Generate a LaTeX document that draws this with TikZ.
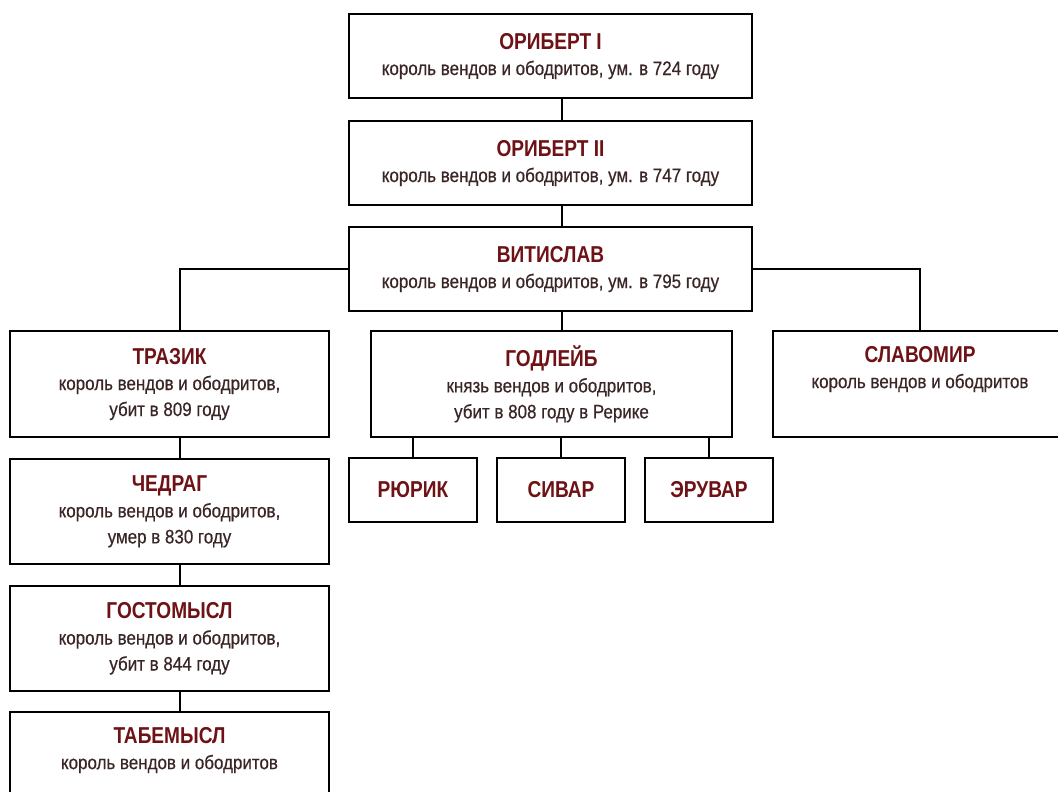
\documentclass[tikz,border=0pt]{standalone}
\usepackage{fontspec}
\setmainfont[FakeStretch=0.83]{Liberation Sans}
\newfontfamily\subfont[FakeStretch=0.87,FakeBold=0.5]{Liberation Sans}
\definecolor{titlered}{HTML}{6E1216}
\definecolor{subcol}{HTML}{3A2626}
\newcommand{\ttl}[1]{\textcolor{titlered}{\normalfont\bfseries\fontsize{23pt}{26pt}\selectfont #1}}
\tikzset{
  x=1pt,y=-1pt,
  box/.style={draw=black, line width=2.2pt, fill=white, inner sep=0pt, outer sep=0pt,
    align=center, text=subcol, font=\subfont\fontsize{19.5pt}{26pt}\selectfont},
  link/.style={draw=black, line width=2.2pt}
}
\begin{document}
\begin{tikzpicture}
\useasboundingbox (0,0) rectangle (1058,792);
\clip (0,0) rectangle (1058,792);
\fill[white] (0,0) rectangle (1058,792);
% main column
\node[box, minimum width=403pt, minimum height=84pt] (o1) at (550.5,56) {\ttl{ОРИБЕРТ I}\\король вендов и ободритов, ум. в 724 году};
\node[box, minimum width=403pt, minimum height=84pt] (o2) at (550.5,163) {\ttl{ОРИБЕРТ II}\\король вендов и ободритов, ум. в 747 году};
\node[box, minimum width=403pt, minimum height=84pt] (v) at (550.5,269) {\ttl{ВИТИСЛАВ}\\король вендов и ободритов, ум. в 795 году};
% second row
\node[box, minimum width=319pt, minimum height=106pt] (traz) at (169.5,384) {\ttl{ТРАЗИК}\\король вендов и ободритов,\\убит в 809 году};
\node[box, minimum width=361pt, minimum height=106pt] (gl) at (551.5,384) {\ttl{ГОДЛЕЙБ}\\князь вендов и ободритов,\\убит в 808 году в Рерике};
\node[box, minimum width=294pt, minimum height=106pt] (slav) at (920,384) {\ttl{СЛАВОМИР}\\король вендов и ободритов\\\strut};
% Godleib's sons
\node[box, minimum width=128pt, minimum height=64pt] (rur) at (413,490) {\ttl{РЮРИК}};
\node[box, minimum width=128pt, minimum height=64pt] (siv) at (561,490) {\ttl{СИВАР}};
\node[box, minimum width=128pt, minimum height=64pt] (eru) at (709,490) {\ttl{ЭРУВАР}};
% left chain
\node[box, minimum width=319pt, minimum height=105pt] (ched) at (169.5,511.5) {\ttl{ЧЕДРАГ}\\король вендов и ободритов,\\умер в 830 году};
\node[box, minimum width=319pt, minimum height=105pt] (gost) at (169.5,638.5) {\ttl{ГОСТОМЫСЛ}\\король вендов и ободритов,\\убит в 844 году};
\node[box, minimum width=319pt, minimum height=106pt] (tab) at (169.5,765) {\ttl{ТАБЕМЫСЛ}\\король вендов и ободритов\\\strut};
% connectors
\draw[link] ([xshift=11.5pt]o1.south) -- ([xshift=11.5pt]o2.north);
\draw[link] ([xshift=11.5pt]o2.south) -- ([xshift=11.5pt]v.north);
\draw[link] ([xshift=11.5pt]v.south) -- ([xshift=11.5pt]v.south |- gl.north);
\draw[link] (v.west) -| ([xshift=10.5pt]traz.north);
\draw[link] (v.east) -| (slav.north);
\draw[link] (rur.north) -- (rur.north |- gl.south);
\draw[link] (siv.north) -- (siv.north |- gl.south);
\draw[link] (eru.north) -- (eru.north |- gl.south);
\draw[link] ([xshift=10.5pt]traz.south) -- ([xshift=10.5pt]ched.north);
\draw[link] ([xshift=10.5pt]ched.south) -- ([xshift=10.5pt]gost.north);
\draw[link] ([xshift=10.5pt]gost.south) -- ([xshift=10.5pt]tab.north);
\end{tikzpicture}
\end{document}
